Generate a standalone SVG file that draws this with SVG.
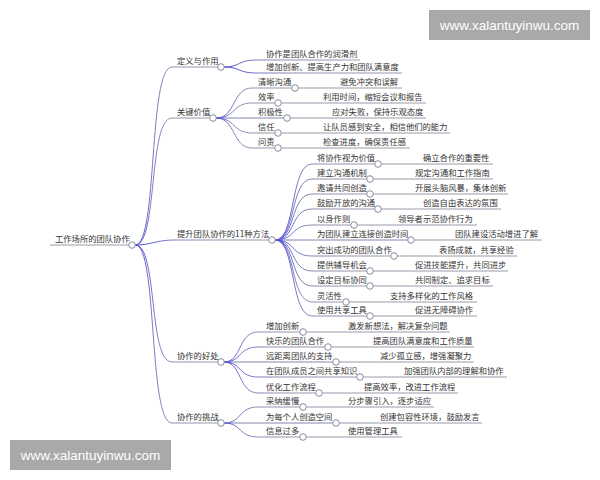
<svg xmlns="http://www.w3.org/2000/svg" width="600" height="480" viewBox="0 0 600 480">
<defs>
<linearGradient id="fan" x1="0" y1="0" x2="1" y2="0">
<stop offset="0" stop-color="#4848e0"/>
<stop offset="0.2" stop-color="#7878c4"/>
<stop offset="0.45" stop-color="#8e8eae"/>
<stop offset="1" stop-color="#9a9aaa"/>
</linearGradient>
</defs>
<style>
text{font-family:"Noto Sans CJK SC","Noto Sans",sans-serif;font-size:8.3px;fill:#333}
.c{fill:none;stroke:url(#fan);stroke-width:1}
.s{fill:none;stroke:#8585b0;stroke-width:1}
.u{fill:none;stroke:#9a9aaa;stroke-width:1}
circle{fill:#fff;stroke:#8a8aa0;stroke-width:1}
.wm{fill:#a9a9a9}
.wt{font-family:"Liberation Sans",Arial,sans-serif;font-size:13.5px;fill:#fff}
</style>
<rect width="600" height="480" fill="#fff"/>
<g id="connectors">
<path class="u" d="M50,245 H128.7"/>
<path class="c" d="M135.3,245 C158,245 148,67 172,67 H217.7"/>
<path class="c" d="M135.3,245 C158,245 148,118 172,118 H209.7"/>
<path class="c" d="M135.3,245 C152,245 155,240 175,240 H268.7"/>
<path class="c" d="M135.3,245 C158,245 148,362 172,362 H217.7"/>
<path class="c" d="M135.3,245 C158,245 148,423 172,423 H217.7"/>
<path class="c" d="M224.3,67 C240,67 238,60 256,60 H360"/>
<path class="c" d="M224.3,67 C240,67 238,73 256,73 H402"/>
<path class="c" d="M216.3,118 C236,118 232,88 252,88 H291.7"/>
<path class="c" d="M216.3,118 C236,118 232,103 252,103 H274.7"/>
<path class="s" d="M216.3,118 H283.7"/>
<path class="c" d="M216.3,118 C236,118 232,133 252,133 H274.7"/>
<path class="c" d="M216.3,118 C236,118 232,148 252,148 H274.7"/>
<path class="u" d="M298.3,88 H402"/>
<path class="u" d="M281.3,103 H426"/>
<path class="u" d="M290.3,118 H426"/>
<path class="u" d="M281.3,133 H450"/>
<path class="u" d="M281.3,148 H410"/>
<path class="c" d="M275.3,240 C296,240 290,164 312,164 H374.7"/>
<path class="c" d="M275.3,240 C296,240 290,179 312,179 H366.7"/>
<path class="c" d="M275.3,240 C296,240 290,194 312,194 H366.7"/>
<path class="c" d="M275.3,240 C296,240 290,209 312,209 H374.7"/>
<path class="c" d="M275.3,240 C296,240 290,225 312,225 H350.7"/>
<path class="s" d="M275.3,240 H407.7"/>
<path class="c" d="M275.3,240 C296,240 290,256 312,256 H390.7"/>
<path class="c" d="M275.3,240 C296,240 290,271 312,271 H366.7"/>
<path class="c" d="M275.3,240 C296,240 290,286 312,286 H366.7"/>
<path class="c" d="M275.3,240 C296,240 290,302 312,302 H342.7"/>
<path class="c" d="M275.3,240 C296,240 290,316 312,316 H366.7"/>
<path class="u" d="M381.3,164 H493"/>
<path class="u" d="M373.3,179 H493"/>
<path class="u" d="M373.3,194 H508"/>
<path class="u" d="M381.3,209 H501"/>
<path class="u" d="M357.3,225 H477"/>
<path class="u" d="M414.3,240 H542"/>
<path class="u" d="M397.3,256 H517"/>
<path class="u" d="M373.3,271 H508"/>
<path class="u" d="M373.3,286 H493"/>
<path class="u" d="M349.3,302 H477"/>
<path class="u" d="M373.3,316 H477"/>
<path class="c" d="M224.3,362 C242,362 238,332 258,332 H299.7"/>
<path class="c" d="M224.3,362 C242,362 238,347 258,347 H324.7"/>
<path class="s" d="M224.3,362 H332.7"/>
<path class="c" d="M224.3,362 C242,362 238,377 258,377 H356.7"/>
<path class="c" d="M224.3,362 C242,362 238,393 258,393 H315.7"/>
<path class="u" d="M306.3,332 H450"/>
<path class="u" d="M331.3,347 H474"/>
<path class="u" d="M339.3,362 H474"/>
<path class="u" d="M363.3,377 H507"/>
<path class="u" d="M322.3,393 H458"/>
<path class="c" d="M224.3,423 C242,423 238,407 258,407 H299.7"/>
<path class="s" d="M224.3,423 H332.7"/>
<path class="c" d="M224.3,423 C242,423 238,437 258,437 H299.7"/>
<path class="u" d="M306.3,407 H434"/>
<path class="u" d="M339.3,423 H482"/>
<path class="u" d="M306.3,437 H402"/>
</g>
<g id="root"><text x="55" y="242">工作场所的团队协作</text><circle cx="132" cy="245" r="3.3"/></g>
<g id="b1"><text x="177" y="64">定义与作用</text><circle cx="221" cy="67" r="3.3"/></g>
<g id="b1-1"><text x="266" y="57">协作是团队合作的润滑剂</text></g>
<g id="b1-2"><text x="266" y="70">增加创新、提高生产力和团队满意度</text></g>
<g id="b2"><text x="177" y="115">关键价值</text><circle cx="213" cy="118" r="3.3"/></g>
<g id="b2-1"><text x="258" y="85">清晰沟通</text><circle cx="295" cy="88" r="3.3"/></g>
<g id="b2-1a"><text x="340" y="85">避免冲突和误解</text></g>
<g id="b2-2"><text x="258" y="100">效率</text><circle cx="278" cy="103" r="3.3"/></g>
<g id="b2-2a"><text x="323" y="100">利用时间，缩短会议和报告</text></g>
<g id="b2-3"><text x="258" y="115">积极性</text><circle cx="287" cy="118" r="3.3"/></g>
<g id="b2-3a"><text x="332" y="115">应对失败，保持乐观态度</text></g>
<g id="b2-4"><text x="258" y="130">信任</text><circle cx="278" cy="133" r="3.3"/></g>
<g id="b2-4a"><text x="323" y="130">让队员感到安全，相信他们的能力</text></g>
<g id="b2-5"><text x="258" y="145">问责</text><circle cx="278" cy="148" r="3.3"/></g>
<g id="b2-5a"><text x="323" y="145">检查进度，确保责任感</text></g>
<g id="b3"><text x="177" y="237">提升团队协作的11种方法</text><circle cx="272" cy="240" r="3.3"/></g>
<g id="b3-1"><text x="317" y="161">将协作视为价值</text><circle cx="378" cy="164" r="3.3"/></g>
<g id="b3-1a"><text x="423" y="161">确立合作的重要性</text></g>
<g id="b3-2"><text x="317" y="176">建立沟通机制</text><circle cx="370" cy="179" r="3.3"/></g>
<g id="b3-2a"><text x="415" y="176">规定沟通和工作指南</text></g>
<g id="b3-3"><text x="317" y="191">邀请共同创造</text><circle cx="370" cy="194" r="3.3"/></g>
<g id="b3-3a"><text x="415" y="191">开展头脑风暴，集体创新</text></g>
<g id="b3-4"><text x="317" y="206">鼓励开放的沟通</text><circle cx="378" cy="209" r="3.3"/></g>
<g id="b3-4a"><text x="423" y="206">创造自由表达的氛围</text></g>
<g id="b3-5"><text x="317" y="222">以身作则</text><circle cx="354" cy="225" r="3.3"/></g>
<g id="b3-5a"><text x="398" y="222">领导者示范协作行为</text></g>
<g id="b3-6"><text x="317" y="237">为团队建立连接创造时间</text><circle cx="411" cy="240" r="3.3"/></g>
<g id="b3-6a"><text x="455" y="237">团队建设活动增进了解</text></g>
<g id="b3-7"><text x="317" y="253">突出成功的团队合作</text><circle cx="394" cy="256" r="3.3"/></g>
<g id="b3-7a"><text x="439" y="253">表扬成就，共享经验</text></g>
<g id="b3-8"><text x="317" y="268">提供辅导机会</text><circle cx="370" cy="271" r="3.3"/></g>
<g id="b3-8a"><text x="415" y="268">促进技能提升，共同进步</text></g>
<g id="b3-9"><text x="317" y="283">设定目标协同</text><circle cx="370" cy="286" r="3.3"/></g>
<g id="b3-9a"><text x="415" y="283">共同制定、追求目标</text></g>
<g id="b3-10"><text x="317" y="299">灵活性</text><circle cx="346" cy="302" r="3.3"/></g>
<g id="b3-10a"><text x="390" y="299">支持多样化的工作风格</text></g>
<g id="b3-11"><text x="317" y="313">使用共享工具</text><circle cx="370" cy="316" r="3.3"/></g>
<g id="b3-11a"><text x="415" y="313">促进无障碍协作</text></g>
<g id="b4"><text x="177" y="359">协作的好处</text><circle cx="221" cy="362" r="3.3"/></g>
<g id="b4-1"><text x="266" y="329">增加创新</text><circle cx="303" cy="332" r="3.3"/></g>
<g id="b4-1a"><text x="348" y="329">激发新想法，解决复杂问题</text></g>
<g id="b4-2"><text x="266" y="344">快乐的团队合作</text><circle cx="328" cy="347" r="3.3"/></g>
<g id="b4-2a"><text x="373" y="344">提高团队满意度和工作质量</text></g>
<g id="b4-3"><text x="266" y="359">远距离团队的支持</text><circle cx="336" cy="362" r="3.3"/></g>
<g id="b4-3a"><text x="380" y="359">减少孤立感，增强凝聚力</text></g>
<g id="b4-4"><text x="266" y="374">在团队成员之间共享知识</text><circle cx="360" cy="377" r="3.3"/></g>
<g id="b4-4a"><text x="404" y="374">加强团队内部的理解和协作</text></g>
<g id="b4-5"><text x="266" y="390">优化工作流程</text><circle cx="319" cy="393" r="3.3"/></g>
<g id="b4-5a"><text x="364" y="390">提高效率，改进工作流程</text></g>
<g id="b5"><text x="177" y="420">协作的挑战</text><circle cx="221" cy="423" r="3.3"/></g>
<g id="b5-1"><text x="266" y="404">采纳缓慢</text><circle cx="303" cy="407" r="3.3"/></g>
<g id="b5-1a"><text x="348" y="404">分步骤引入，逐步适应</text></g>
<g id="b5-2"><text x="266" y="420">为每个人创造空间</text><circle cx="336" cy="423" r="3.3"/></g>
<g id="b5-2a"><text x="380" y="420">创建包容性环境，鼓励发言</text></g>
<g id="b5-3"><text x="266" y="434">信息过多</text><circle cx="303" cy="437" r="3.3"/></g>
<g id="b5-3a"><text x="348" y="434">使用管理工具</text></g>
<g id="watermark-top"><rect class="wm" x="429" y="10" width="161" height="30"/><text class="wt" x="509.5" y="30" text-anchor="middle">www.xalantuyinwu.com</text></g>
<g id="watermark-bottom"><rect class="wm" x="10" y="440" width="161" height="30"/><text class="wt" x="90.5" y="460" text-anchor="middle">www.xalantuyinwu.com</text></g>
</svg>
